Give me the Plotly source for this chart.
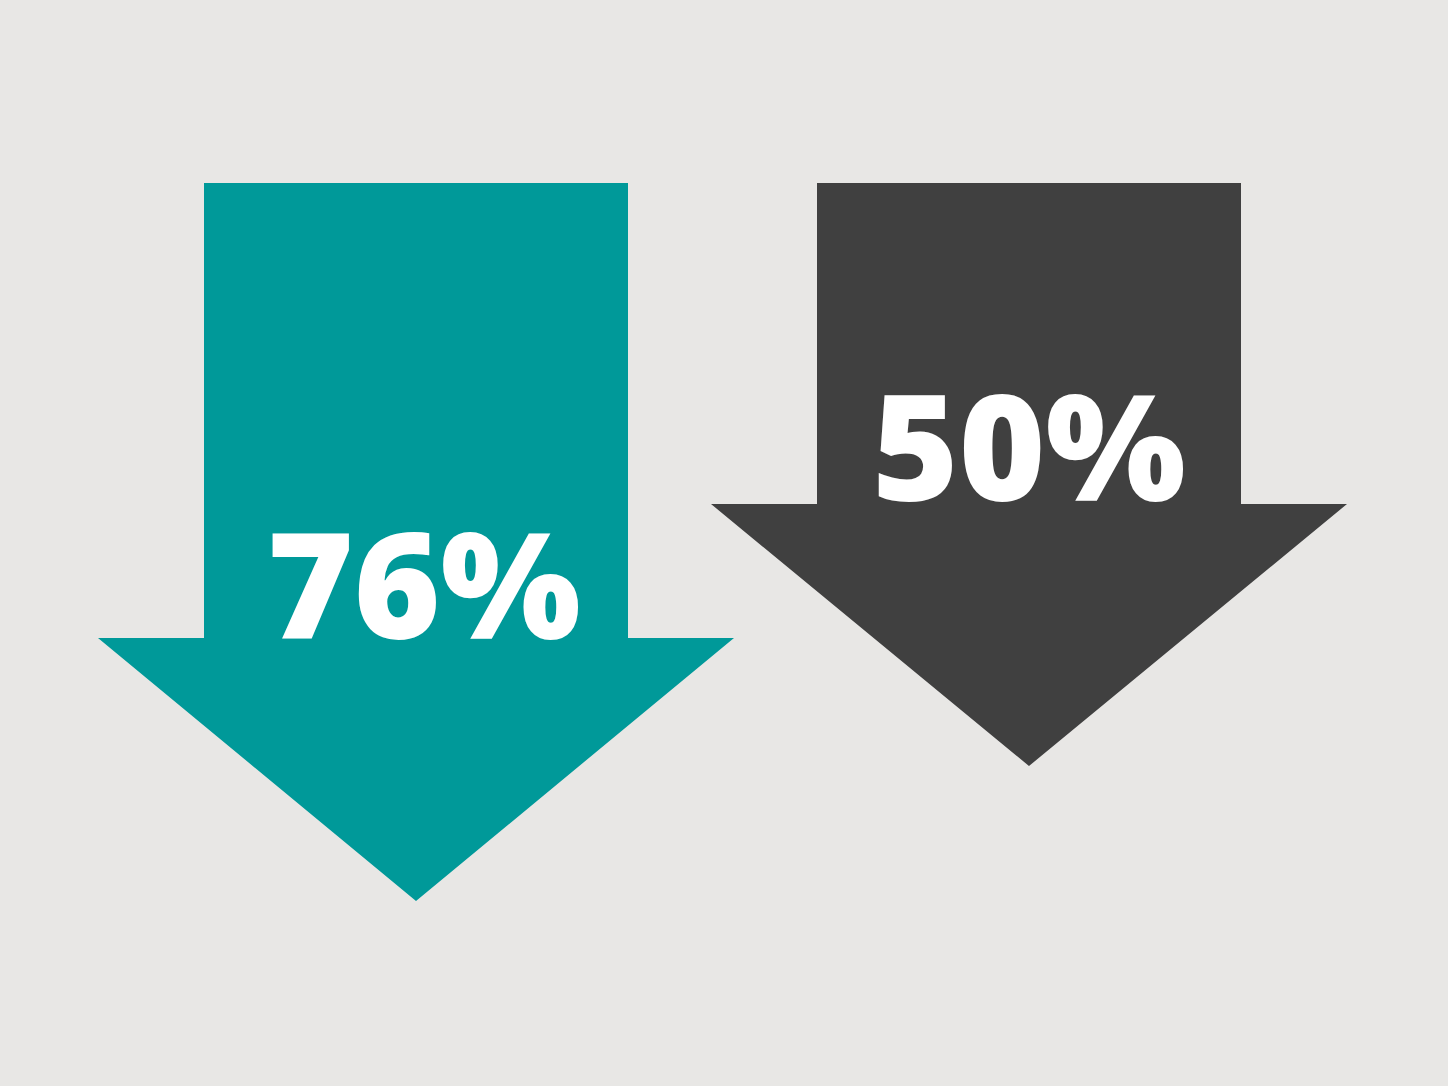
import plotly.graph_objects as go

# Data
labels = ["76%", "50%"]
values = [76, 50]
colors = ["#009999", "#404040"]

# Arrow geometry (pixel space, styling)
centers_x = [416, 1029]
shaft_half = [212, 212]
head_half = [318, 318]
shaft_top = [183, 183]
shaft_bottom = [638, 504]
tip_y = [901, 766]
label_pos = [(424, 602), (1029, 464)]

fig = go.Figure()
for i, lab in enumerate(labels):
    cx = centers_x[i]
    xs = [cx - shaft_half[i], cx + shaft_half[i], cx + shaft_half[i], cx + head_half[i],
          cx, cx - head_half[i], cx - shaft_half[i], cx - shaft_half[i]]
    ys = [shaft_top[i], shaft_top[i], shaft_bottom[i], shaft_bottom[i],
          tip_y[i], shaft_bottom[i], shaft_bottom[i], shaft_top[i]]
    fig.add_trace(go.Scatter(x=xs, y=ys, fill="toself", fillcolor=colors[i],
                             mode="lines", line=dict(width=0, color=colors[i]),
                             hoverinfo="skip", showlegend=False))
    fig.add_trace(go.Scatter(x=[label_pos[i][0]], y=[label_pos[i][1]], mode="text",
                             text=[lab], textposition="middle center",
                             textfont=dict(family="Open Sans", size=148, color="white", weight=800),
                             hoverinfo="skip", showlegend=False))

fig.update_layout(
    width=1448, height=1086,
    margin=dict(l=0, r=0, t=0, b=0),
    paper_bgcolor="#E8E7E5", plot_bgcolor="#E8E7E5",
    xaxis=dict(range=[0, 1448], visible=False, fixedrange=True),
    yaxis=dict(range=[1086, 0], visible=False, fixedrange=True),
)
fig.write_html(
    "out.html",
    config={"displayModeBar": False},
    post_script="document.body.style.margin='0';document.body.style.overflow='hidden';document.body.style.background='#E8E7E5';",
)
